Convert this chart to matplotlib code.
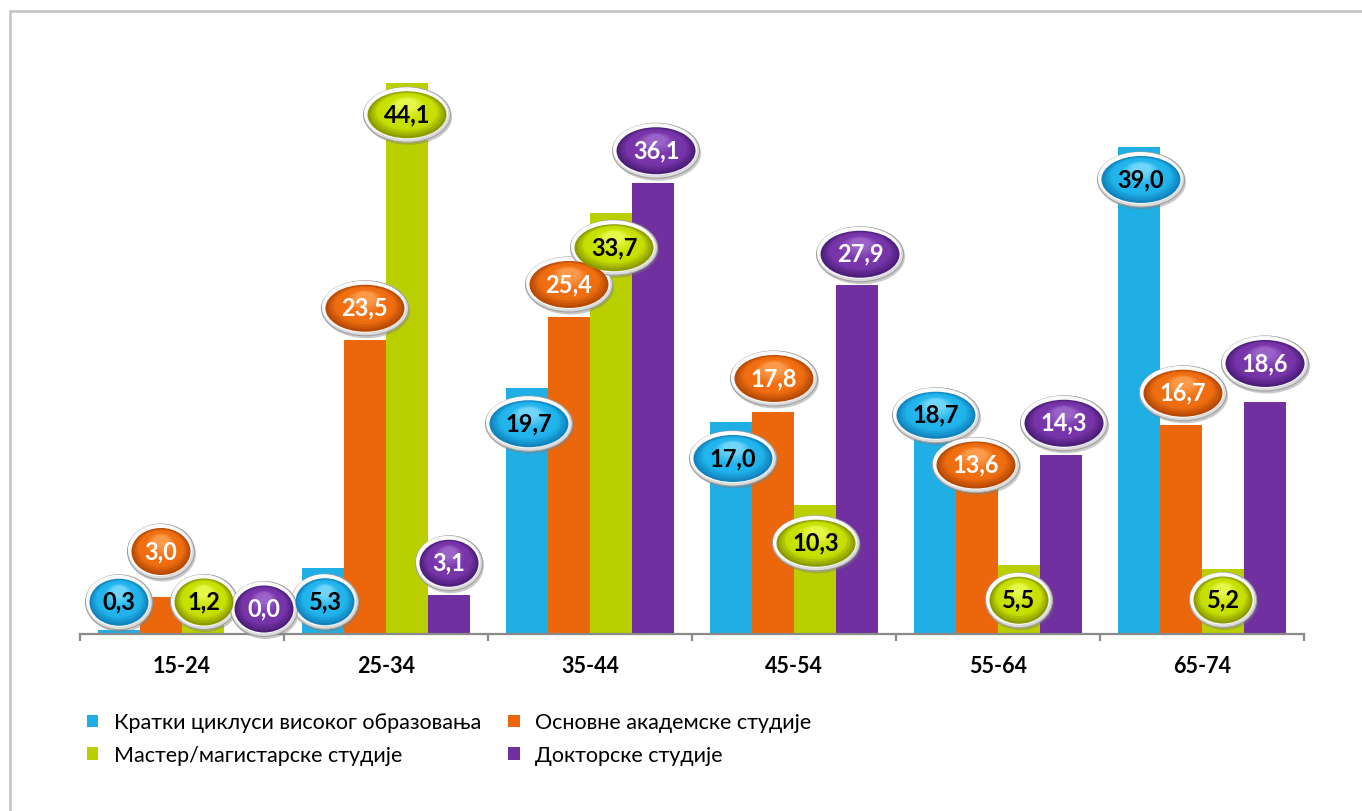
import numpy as np
import matplotlib.pyplot as plt
from matplotlib.patches import Ellipse, Rectangle
from matplotlib.transforms import Affine2D, ScaledTranslation
from matplotlib.colors import to_rgb

plt.rcParams['font.family'] = ['Lato', 'DejaVu Sans']

groups = ['15-24', '25-34', '35-44', '45-54', '55-64', '65-74']
series = ['Кратки циклуси високог образовања', 'Основне академске студије',
          'Мастер/магистарске студије', 'Докторске студије']
short_cycle = [0.3, 5.3, 19.7, 17.0, 18.7, 39.0]
bachelor = [3.0, 23.5, 25.4, 17.8, 13.6, 16.7]
master = [1.2, 44.1, 33.7, 10.3, 5.5, 5.2]
doctoral = [0.0, 3.1, 36.1, 27.9, 14.3, 18.6]
values = [short_cycle, bachelor, master, doctoral]

colors = ['#20AFE5', '#EC670C', '#BACF00', '#7030A0']
text_colors = ['black', 'white', 'black', 'white']
# badge gradient: edge, body, light top
grad = [('#1183BE', '#22B4EC', '#6FD6FA'), ('#B84A05', '#F06E10', '#FB9A4A'),
        ('#8C9C00', '#C8E000', '#E6F74A'), ('#4E1F7A', '#7835AA', '#9B62C8')]

# label offsets from bar top, in pixels (layout only)
lab_dy = [[28, -34, -36, -37, -15, -33],
          [45, 32, 32, 33, -1, 32],
          [17, -32, -35, -38, -35, -31],
          [25, 32, 32, 31, 32, 38]]
lab_dx = [[0, 2, 2, 2, 1, 2],
          [0, 0, 0, 1, -1, 2],
          [1, 0, 3, 1, 0, 0],
          [19, 0, 3, 3, 3, 0]]

W, H = 1362, 811
fig = plt.figure(figsize=(W / 100, H / 100), dpi=100)
ax = fig.add_axes([80 / W, (H - 634) / H, 1224 / W, 562.5 / H])

x = np.arange(len(groups))
bw = 0.206
bars = []
for i, vals in enumerate(values):
    b = ax.bar(x + (i - 1.5) * bw, vals, bw, color=colors[i], label=series[i], zorder=2)
    bars.append(b)

ax.set_xlim(-0.5, 5.5)
ax.set_ylim(0, 45)
for s in ['top', 'right', 'left']:
    ax.spines[s].set_visible(False)
ax.spines['bottom'].set_color('#8a8a8a')
ax.spines['bottom'].set_linewidth(1.6)
ax.set_yticks([])
ax.set_xticks(np.arange(-0.5, 6, 1))
ax.set_xticklabels([])
ax.tick_params(axis='x', which='major', length=5, width=1.6, color='#8a8a8a', direction='out')
ax.set_xticks(x, minor=True)
ax.set_xticklabels(groups, minor=True, fontsize=15.5, fontweight='bold')
ax.tick_params(axis='x', which='minor', length=0, pad=16)


def ellipse(dx, dy, ew, eh, base, **kw):
    tr = Affine2D().scale(ew / 2, eh / 2).translate(dx, dy) + base
    e = Ellipse((0, 0), 2, 2, transform=tr, clip_on=False, **kw)
    ax.add_artist(e)


def badge(xv, yv, dx, dy, text, k):
    base = ScaledTranslation(xv, yv, ax.transData)
    w = 87 if len(text) > 3 else 67
    h = 55
    # shadow + silver rim
    ellipse(dx + 1.5, dy - 2.5, w, h, base, facecolor='#7a7a7a', edgecolor='none', alpha=0.4, zorder=5)
    ellipse(dx, dy, w, h, base, facecolor='#dcdcdc', edgecolor='#a0a0a0', linewidth=0.8, zorder=6)
    ellipse(dx - 1, dy + 1.5, w - 3, h - 3, base, facecolor='#fafafa', edgecolor='none', zorder=6)
    c0, c1, c2 = (np.array(to_rgb(c)) for c in grad[k])
    iw, ih = w - 8, h - 8
    n = 12
    for j in range(n):
        t = j / (n - 1)
        if t < 0.3:
            c = c0 + (c1 - c0) * (t / 0.3)
        elif t < 0.6:
            c = c1
        else:
            c = c1 + (c2 - c1) * ((t - 0.6) / 0.4)
        s = 1 - 0.75 * t
        ellipse(dx, dy + 0.22 * ih * t, iw * s, ih * s, base, facecolor=c, edgecolor='none', zorder=7)
    ax.annotate(text, (xv, yv), xytext=(dx, dy), textcoords='offset pixels', ha='center', va='center',
                fontsize=17, fontweight='bold', color=text_colors[k], zorder=9, annotation_clip=False)


for i, vals in enumerate(values):
    for j, v in enumerate(vals):
        xv = x[j] + (i - 1.5) * bw
        badge(xv, v, lab_dx[i][j], lab_dy[i][j], f'{v:.1f}'.replace('.', ','), i)

order = [0, 2, 1, 3]
leg = fig.legend([bars[i] for i in order], [series[i] for i in order], ncol=2, frameon=False,
                 loc='upper left', bbox_to_anchor=(78 / W, (H - 704) / H), fontsize=15.5,
                 handlelength=0.55, handleheight=0.55, handletextpad=0.7, columnspacing=1.25,
                 labelspacing=0.6, borderaxespad=0)

fig.add_artist(Rectangle((10 / W, -0.1), 1.2, (H - 11) / H + 0.1, transform=fig.transFigure,
                         fill=False, edgecolor='#c3c3c3', linewidth=1.8))

fig.savefig('out.png', dpi=100)
